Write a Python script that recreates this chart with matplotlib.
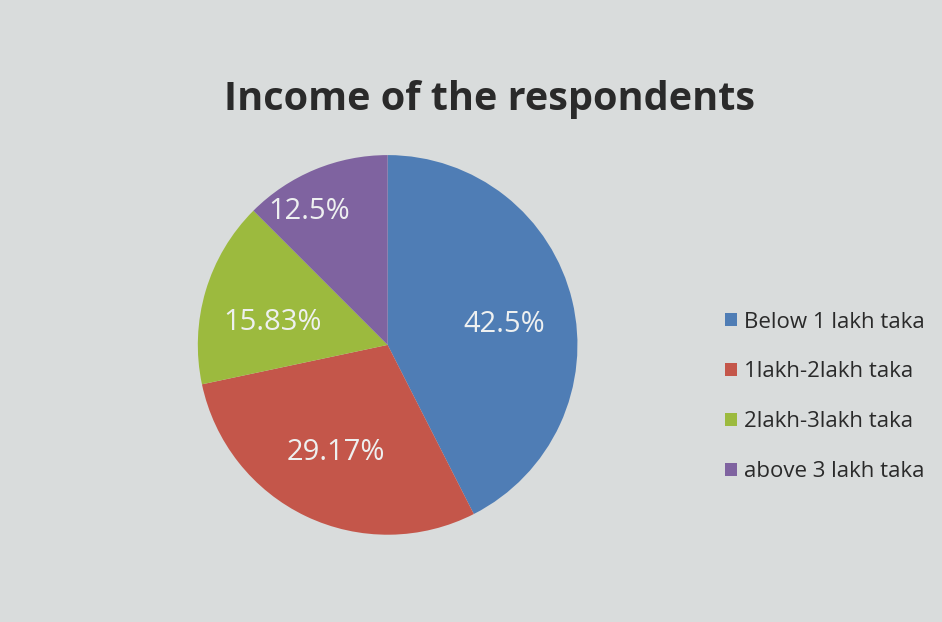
import matplotlib.pyplot as plt

plt.rcParams['font.family'] = ['Open Sans', 'DejaVu Sans']

categories = ["Below 1 lakh taka", "1lakh-2lakh taka", "2lakh-3lakh taka", "above 3 lakh taka"]
shares = [42.5, 29.17, 15.83, 12.5]
colors = ["#4f7db5", "#c4564a", "#9cba3e", "#7f63a0"]

fig = plt.figure(figsize=(9.42, 6.22), dpi=100, facecolor="#d9dcdc")
ax = fig.add_axes([0.210, 0.140, 0.403, 0.611])

wedges, texts, autotexts = ax.pie(
    shares, colors=colors, startangle=90, counterclock=False,
    autopct=lambda p: f"{p:.2f}".rstrip("0").rstrip(".") + "%",
    pctdistance=0.63, textprops=dict(color="#eef0f0", fontsize=21))
ax.set_xlim(-1, 1)
ax.set_ylim(-1, 1)
ax.set_aspect("equal")

# nudge labels the way the office chart places them
x, y = autotexts[3].get_position()
autotexts[3].set_position((x - 0.17, y + 0.12))
x, y = autotexts[2].get_position()
autotexts[2].set_position((x, y - 0.06))
x, y = autotexts[0].get_position()
autotexts[0].set_position((x, y - 0.04))

fig.text(0.52, 0.84, "Income of the respondents", ha="center", va="center",
         fontsize=28.5, fontweight="bold", color="#2a2a2a")

fig.legend(wedges, categories, loc="center left", bbox_to_anchor=(0.748, 0.362),
           frameon=False, fontsize=16, labelspacing=1.3, handlelength=0.55,
           handleheight=0.55, handletextpad=0.3, labelcolor="#2a2a2a")

plt.savefig("out.png", facecolor=fig.get_facecolor())
